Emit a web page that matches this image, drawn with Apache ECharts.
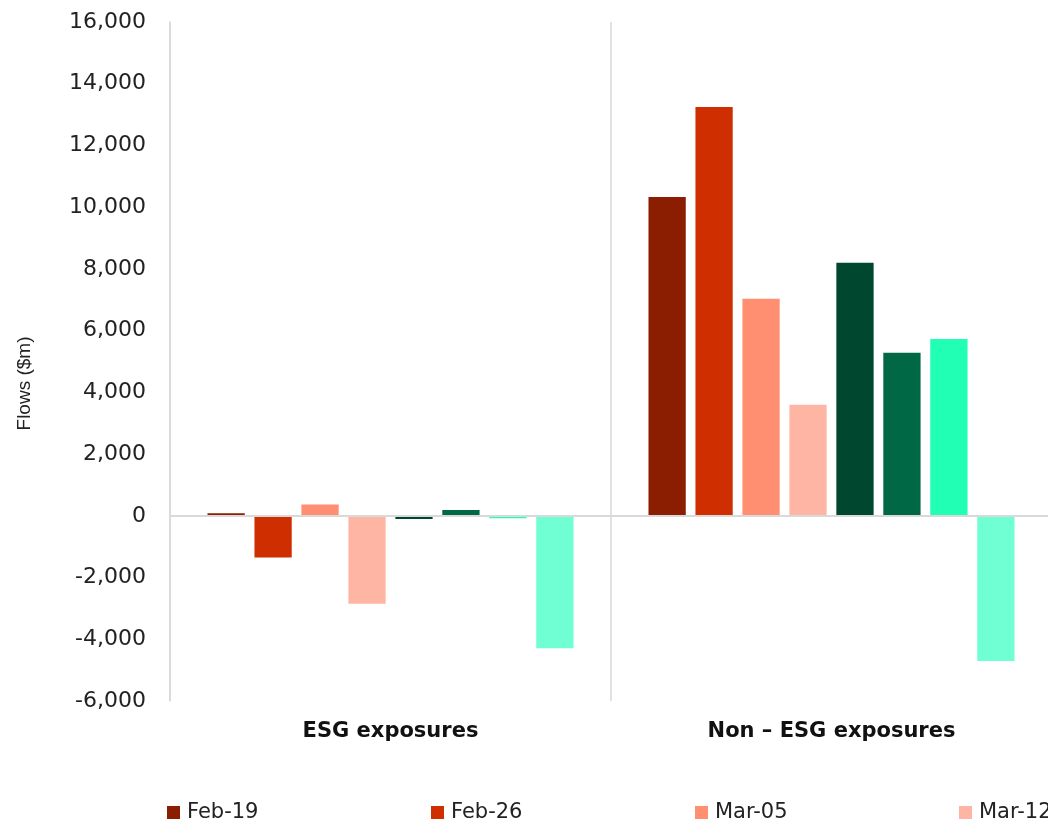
<!DOCTYPE html>
<html><head><meta charset="utf-8">
<script src="https://cdn.jsdelivr.net/npm/echarts@6/dist/echarts.min.js"></script>
<style>html,body{margin:0;padding:0;background:#fff}#c{width:1048px;height:823px}</style>
</head><body><div id="c"></div>
<script>
const categories = ['ESG exposures', 'Non \u2013 ESG exposures'];
const seriesNames = ['Feb-19', 'Feb-26', 'Mar-05', 'Mar-12', 'Mar-19', 'Mar-26', 'Apr-02', 'Apr-09'];
const feb19 = [80, 10330];
const feb26 = [-1350, 13250];
const mar05 = [370, 7030];
const mar12 = [-2850, 3600];
const mar19 = [-100, 8200];
const mar26 = [190, 5280];
const apr02 = [-80, 5730];
const apr09 = [-4290, -4700];
const colors = ['#8B1E00', '#CF2E00', '#FF8F70', '#FFB5A3', '#004730', '#006845', '#20FFB3', '#6FFFD2'];
const values = [feb19, feb26, mar05, mar12, mar19, mar26, apr02, apr09];

const font = 'DejaVu Sans, sans-serif';
const chart = echarts.init(document.getElementById('c'), null, {renderer: 'canvas'});
const series = seriesNames.map((n, i) => ({
  name: n, type: 'bar', data: values[i], barGap: '26%', barCategoryGap: '17%',
  itemStyle: {color: colors[i]},
  ...(i === 0 ? {markLine: {silent: true, symbol: 'none', label: {show: false},
    lineStyle: {color: '#d9d9d9', width: 2, type: 'solid'}, data: [{yAxis: 0}]}} : {})
}));
const legends = seriesNames.map((n, i) => ({
  left: 167 + i * 264, top: 802, padding: 0, itemWidth: 13, itemHeight: 13, icon: 'rect',
  textStyle: {fontFamily: font, fontSize: 21, color: '#222', padding: [0, 0, 0, 2]},
  data: [n]
}));
chart.setOption({
  animation: false,
  color: colors,
  grid: {left: 170, top: 22, right: -4, bottom: 122, outerBoundsMode: 'none', containLabel: false},
  legend: legends,
  xAxis: {
    type: 'category', data: categories,
    axisLine: {show: false, onZero: false}, axisTick: {show: false},
    splitLine: {show: true, lineStyle: {color: '#d9d9d9', width: 1.5}},
    axisLabel: {fontFamily: font, fontSize: 21, fontWeight: 'bold', color: '#111', margin: 20}
  },
  yAxis: {
    type: 'value', min: -6000, max: 16000, interval: 2000,
    name: 'Flows ($m)', nameLocation: 'middle', nameGap: 136, nameRotate: 90,
    nameTextStyle: {fontFamily: 'Liberation Sans, Arial, sans-serif', fontSize: 19, color: '#222', padding: [0, 0, 0, -44]},
    axisLine: {show: true, lineStyle: {color: '#d9d9d9', width: 1.5}},
    axisTick: {show: false}, splitLine: {show: false},
    axisLabel: {fontFamily: font, fontSize: 22, color: '#222', margin: 24,
      formatter: v => v.toLocaleString('en-US')}
  },
  series
});
</script></body></html>
